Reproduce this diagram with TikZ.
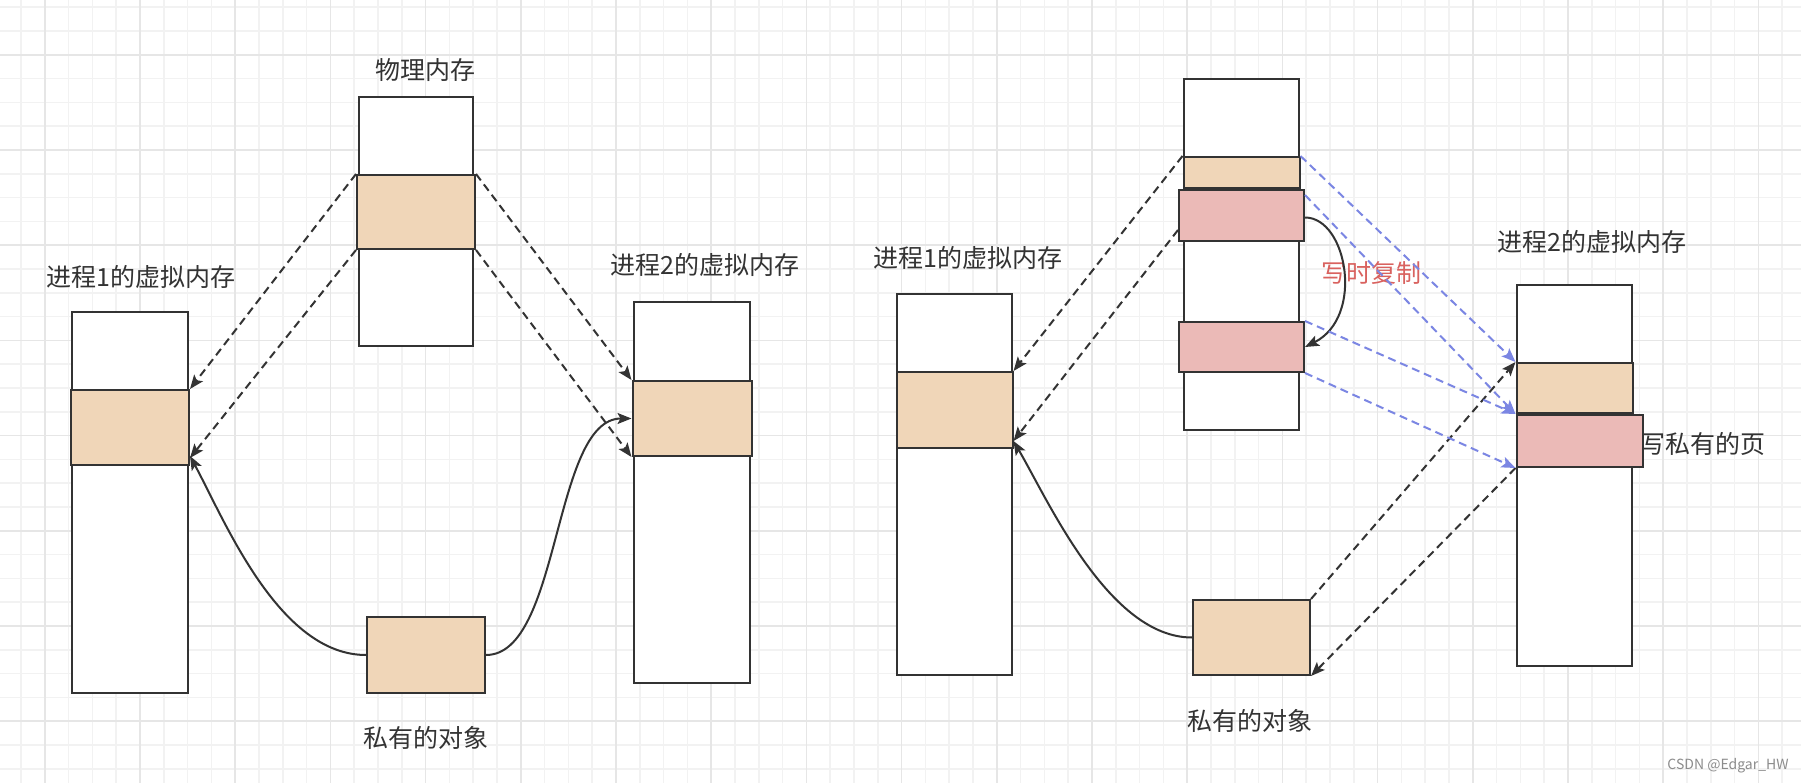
\documentclass[tikz,border=0pt]{standalone}
\usepackage{fontspec}
\setmainfont{Noto Sans CJK SC}
\usetikzlibrary{positioning, arrows.meta}
\definecolor{linec}{HTML}{333333}
\definecolor{pagec}{HTML}{F0D6B8}
\definecolor{cowc}{HTML}{EBBAB7}
\definecolor{bluec}{HTML}{7B86E3}
\definecolor{cowtext}{HTML}{D9625F}
\definecolor{minorc}{HTML}{F2F2F2}
\definecolor{majorc}{HTML}{E6E6E6}
\tikzset{
    column/.style={rectangle, minimum width=116pt, minimum height=381pt, inner sep=0pt, draw=linec, line width=2pt, fill=white},
    page/.style={column, minimum width=118pt, minimum height=75pt, fill=pagec},
    cowpage/.style={column, minimum width=125pt, fill=cowc},
    txt/.style={inner sep=0pt, text=linec, font=\fontsize{25pt}{30pt}\selectfont},
    marktxt/.style={inner sep=0pt, text=black!45, font=\fontsize{14pt}{16pt}\selectfont},
    minorgrid/.style={draw=minorc, line width=1.5pt},
    majorgrid/.style={draw=majorc, line width=1.5pt},
    arrow/.style={line width=2pt, draw=linec, -{Stealth[length=14pt, width=11pt, inset=3pt]}},
    dasharrow/.style={arrow, dash pattern=on 8pt off 5pt},
    bluearrow/.style={dasharrow, draw=bluec}
}
\begin{document}
\begin{tikzpicture}[x=1pt, y=-1pt]

    % Background grid
    \path[use as bounding box, fill=white] (0,0) rectangle (1801,783);
    \foreach \i in {0,...,76} \draw[minorgrid] ({-2.8+23.8*\i},0) -- ++(0,783);
    \foreach \i in {0,...,32} \draw[minorgrid] (0,{7.2+23.8*\i}) -- ++(1801,0);
    \foreach \i in {0,...,18} \draw[majorgrid] ({44.8+95.2*\i},0) -- ++(0,783);
    \foreach \i in {0,...,7} \draw[majorgrid] (0,{54.8+95.2*\i}) -- ++(1801,0);

    % Left: private object
    \node (p1l) [column] at (130,502.5) {};
    \node (p1lpage) [page, below=78pt of p1l.north] {};
    \node (physl) [column, minimum width=114pt, minimum height=249pt] at (416,221.5) {};
    \node (physlpage) [page, minimum height=74pt, below=78pt of physl.north] {};
    \node (p2l) [column] at (692,492.5) {};
    \node (p2lpage) [page, minimum width=119pt, below=79pt of p2l.north] {};
    \node (objl) [page, minimum height=76pt] at (426,655) {};

    \node (p1llabel) [txt] at (141,277) {进程1的虚拟内存};
    \node (physllabel) [txt] at (425,70) {物理内存};
    \node (p2llabel) [txt] at (705,265) {进程2的虚拟内存};
    \node (objllabel) [txt] at (426,738) {私有的对象};

    % Right: copy on write
    \node (p1r) [column, minimum width=115pt] at (954.5,484.5) {};
    \node (p1rpage) [page, minimum width=116pt, minimum height=76pt, below=78pt of p1r.north] {};
    \node (physr) [column, minimum width=115pt, minimum height=351pt] at (1241.5,254.5) {};
    \node (physrpage) [page, minimum width=116pt, minimum height=31pt, below=78pt of physr.north] {};
    \node (physrcow) [cowpage, minimum height=51pt, below=0pt of physrpage] {};
    \node (physrcopy) [cowpage, minimum height=50pt, below=243pt of physr.north] {};
    \node (wlabel) [txt, anchor=west] at (1640,444) {写私有的页};
    \node (p2r) [column, minimum width=115pt] at (1574.5,475.5) {};
    \node (p2rpage) [page, minimum width=116pt, minimum height=50pt, below=78pt of p2r.north] {};
    \node (p2rcopy) [cowpage, minimum width=126pt, minimum height=52pt, anchor=north west] at (p2rpage.south west) {};
    \node (objr) [page, minimum width=117pt] at (1251.5,637.5) {};

    \node (p1rlabel) [txt] at (968,258) {进程1的虚拟内存};
    \node (p2rlabel) [txt] at (1592,242) {进程2的虚拟内存};
    \node (cowlabel) [txt, text=cowtext] at (1371,273) {写时复制};
    \node (objrlabel) [txt] at (1250,721) {私有的对象};
    \node (mark) [marktxt] at (1728,766) {CSDN @Edgar\_HW};

    % Left arrows
    \draw [dasharrow] (physlpage.north west) -- (p1lpage.north east);
    \draw [dasharrow] (physlpage.south west) -- ([yshift=8pt]p1lpage.south east);
    \draw [dasharrow] (physlpage.north east) -- (p2lpage.north west);
    \draw [dasharrow] (physlpage.south east) -- (p2lpage.south west);
    \draw [arrow] (objl.west) .. controls +(-87,0) and +(35,65) .. ([yshift=10pt]p1lpage.south east);
    \draw [arrow] (objl.east) .. controls +(75,0) and +(-79,0) .. (p2lpage.west);

    % Right arrows
    \draw [dasharrow] (physrpage.north west) -- (p1rpage.north east);
    \draw [dasharrow] ([yshift=12pt]physrcow.south west) -- ([yshift=8pt]p1rpage.south east);
    \draw [arrow] (objr.west) .. controls +(-83,0) and +(35,60) .. ([yshift=8pt]p1rpage.south east);
    \draw [dasharrow] (objr.north east) -- (p2rpage.north west);
    \draw [dasharrow] (p2rcopy.south west) -- (objr.south east);
    \draw [arrow] ([yshift=-2pt]physrcow.east) .. controls +(42,0) and +(60,-30) .. (physrcopy.east);
    \draw [bluearrow] (physrpage.north east) -- (p2rpage.north west);
    \draw [bluearrow] ([yshift=-6pt]physrcow.north east) -- (p2rcopy.north west);
    \draw [bluearrow] (physrcopy.north east) -- (p2rcopy.north west);
    \draw [bluearrow] (physrcopy.south east) -- (p2rcopy.south west);

\end{tikzpicture}
\end{document}
